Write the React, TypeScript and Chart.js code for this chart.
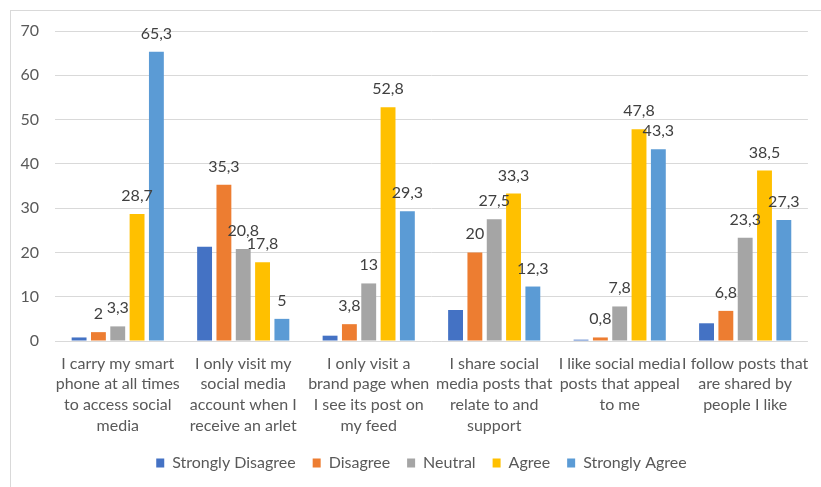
import React, { useEffect, useRef } from "react";
import { Chart, registerables } from "chart.js";

Chart.register(...registerables);

const categories: string[][] = [
  ["I carry my smart", "phone at all times", "to access social", "media"],
  ["I only visit my", "social media", "account when I", "receive an arlet"],
  ["I only visit a", "brand page when", "I see its post on", "my feed"],
  ["I share social", "media posts that", "relate to and", "support"],
  ["I like social media", "posts that appeal", "to me"],
  ["I follow posts that", "are shared by", "people I like"],
];

const seriesNames = ["Strongly Disagree", "Disagree", "Neutral", "Agree", "Strongly Agree"];
const seriesColors = ["#4472C4", "#ED7D31", "#A5A5A5", "#FFC000", "#5B9BD5"];

const stronglyDisagree = [0.8, 21.3, 1.2, 7, 0.3, 4];
const disagree = [2, 35.3, 3.8, 20, 0.8, 6.8];
const neutral = [3.3, 20.8, 13, 27.5, 7.8, 23.3];
const agree = [28.7, 17.8, 52.8, 33.3, 47.8, 38.5];
const stronglyAgree = [65.3, 5, 29.3, 12.3, 43.3, 27.3];

// Series that show a value above each bar
const labelledSeries = [false, true, true, true, true];

const FONT = "Lato, 'Open Sans', sans-serif";
const FONT_SIZE = 16;

const frame = {
  id: "frame",
  beforeDraw(chart: any) {
    const { ctx, width, height } = chart;
    ctx.save();
    ctx.fillStyle = "#ffffff";
    ctx.fillRect(0, 0, width, height);
    ctx.strokeStyle = "#d9d9d9";
    ctx.lineWidth = 1;
    ctx.strokeRect(10.5, 10.5, width + 20, height + 20);
    ctx.restore();
  },
};

// Center the legend under the plot rather than the whole canvas
const legendShift = {
  id: "legendShift",
  afterLayout(chart: any) {
    const lg = chart.legend;
    if (!lg) return;
    const plotCenter = (chart.chartArea.left + chart.chartArea.right) / 2 - 10;
    const boxCenter = (lg.left + lg.right) / 2;
    const dx = plotCenter - boxCenter;
    lg.left += dx;
    lg.right += dx;
  },
};

const valueLabels = {
  id: "valueLabels",
  afterDatasetsDraw(chart: any) {
    const { ctx } = chart;
    ctx.save();
    ctx.font = `${FONT_SIZE}px ${FONT}`;
    ctx.fillStyle = "#404040";
    ctx.textAlign = "center";
    ctx.textBaseline = "alphabetic";
    chart.data.datasets.forEach((ds: any, i: number) => {
      if (!labelledSeries[i]) return;
      const meta = chart.getDatasetMeta(i);
      meta.data.forEach((bar: any, j: number) => {
        const text = String(ds.data[j]).replace(".", ",");
        ctx.fillText(text, bar.x, bar.y - 13);
      });
    });
    ctx.restore();
  },
};

export default function App() {
  const canvasRef = useRef<HTMLCanvasElement | null>(null);

  useEffect(() => {
    document.body.style.margin = "0";
    const values = [stronglyDisagree, disagree, neutral, agree, stronglyAgree];
    const chart = new Chart(canvasRef.current as HTMLCanvasElement, {
      type: "bar",
      data: {
        labels: categories,
        datasets: seriesNames.map((name, i) => ({
          label: name,
          data: values[i],
          backgroundColor: seriesColors[i],
          borderWidth: 0,
          categoryPercentage: 0.77,
          barPercentage: 0.77,
        })),
      },
      options: {
        animation: false,
        responsive: false,
        maintainAspectRatio: false,
        layout: { padding: { left: 10, right: 9, top: 31, bottom: 6 } },
        scales: {
          x: {
            grid: { display: false, drawTicks: false },
            border: { display: false },
            ticks: {
              autoSkip: false,
              maxRotation: 0,
              minRotation: 0,
              padding: 12,
              color: "#595959",
              font: { family: FONT, size: FONT_SIZE, lineHeight: 1.3 },
            },
            afterFit(scale: any) {
              scale.height = 97;
            },
          },
          y: {
            min: 0,
            max: 70,
            grid: { color: "#d9d9d9", lineWidth: 1, drawTicks: false },
            border: { display: false },
            ticks: {
              stepSize: 10,
              padding: 16,
              color: "#595959",
              font: { family: FONT, size: FONT_SIZE },
            },
            afterFit(scale: any) {
              scale.width = 45;
            },
          },
        },
        plugins: {
          legend: {
            position: "bottom",
            labels: {
              boxWidth: 8,
              boxHeight: 9,
              padding: 17,
              color: "#595959",
              font: { family: FONT, size: FONT_SIZE },
            },
          },
          tooltip: { enabled: false },
        },
      },
      plugins: [frame, legendShift, valueLabels],
    });
    return () => chart.destroy();
  }, []);

  return (
    <div style={{ width: 821, height: 487 }}>
      <canvas ref={canvasRef} width={821} height={487} />
    </div>
  );
}
